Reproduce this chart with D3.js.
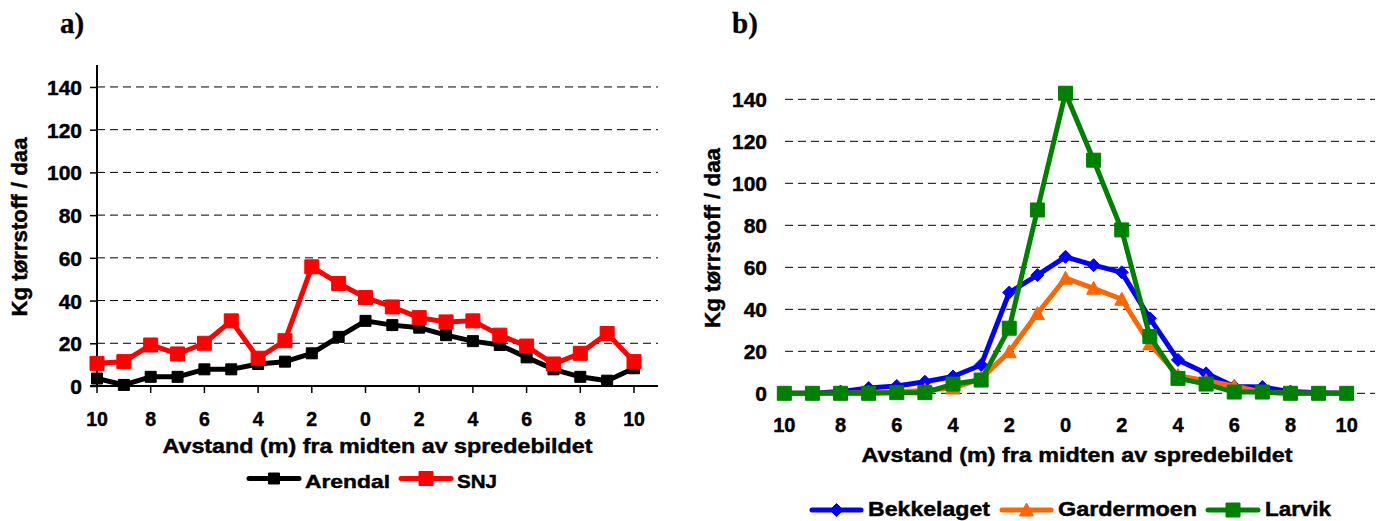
<!DOCTYPE html>
<html>
<head>
<meta charset="utf-8">
<script src="https://cdn.jsdelivr.net/npm/d3@7"></script>
<style>
  html, body { margin: 0; padding: 0; background: #fff; }
  svg { display: block; }
  text { font-family: "Liberation Sans", Arial, sans-serif; font-weight: bold; fill: #000; stroke: #000; stroke-width: 0.45px; }
</style>
</head>
<body>
<svg id="chart" width="1383" height="521"></svg>
<script>
// ---- data ----
const categories = [-10, -9, -8, -7, -6, -5, -4, -3, -2, -1, 0, 1, 2, 3, 4, 5, 6, 7, 8, 9, 10];
const tickCategories = [-10, -8, -6, -4, -2, 0, 2, 4, 6, 8, 10];
const tickLabels = ["10", "8", "6", "4", "2", "0", "2", "4", "6", "8", "10"];
const yTicks = [0, 20, 40, 60, 80, 100, 120, 140];

const arendal = [3.5, 0.5, 4.3, 4.3, 7.8, 7.8, 10.3, 11.4, 15.3, 23, 30.5, 28.5, 27.3, 23.8, 21, 19.2, 13.4, 7.8, 4.3, 2.5, 8.3];
const snj = [10.6, 11.4, 19.2, 15, 20, 30.5, 13, 21.2, 55.8, 48, 41.4, 37, 32, 30, 30.5, 23.8, 18.7, 10.3, 15.3, 24.6, 11.4];

const bekkelaget = [0, 0, 0.8, 2.5, 3.5, 5.5, 8, 13.5, 48, 56.3, 65, 61, 57.6, 35.7, 15.9, 9.5, 3.2, 3, 0.8, 0.3, 0];
const gardermoen = [0, 0, 0, 0.3, 0.5, 1.5, 2.5, 7, 19.8, 38, 54.8, 50, 44.8, 23.5, 8.4, 6, 3.5, 0.5, 0, 0, 0];
const larvik = [0, 0, 0, 0, 0.3, 0.3, 4.4, 6.3, 31, 87.3, 142.9, 111, 77.8, 27, 7.1, 4.4, 0.6, 0.6, 0, 0, 0];

const yTitle = "Kg tørrstoff / daa";
const xTitle = "Avstand (m) fra midten av spredebildet";

const svg = d3.select("#chart");

// marker shapes
function markerPath(type, s) {
  const h = s / 2;
  if (type === "square") return `M${-h},${-h}H${h}V${h}H${-h}Z`;
  if (type === "diamond") return `M0,${-h}L${h},0L0,${h}L${-h},0Z`;
  if (type === "triangle") return `M0,${-h}L${h},${h * 0.85}L${-h},${h * 0.85}Z`;
  return "";
}

function drawSeries(g, x, y, values, color, marker, msize, lw) {
  const line = d3.line().x((d, i) => x(categories[i])).y(d => y(d));
  g.append("path").datum(values)
    .attr("d", line).attr("fill", "none")
    .attr("stroke", color).attr("stroke-width", lw)
    .attr("stroke-linejoin", "round");
  g.selectAll(null).data(values).enter().append("path")
    .attr("d", markerPath(marker, msize))
    .attr("transform", (d, i) => `translate(${x(categories[i])},${y(d)})`)
    .attr("fill", color).attr("stroke", color).attr("stroke-width", 1);
}

function legendItem(g, x0, x1, yc, ty, color, marker, msize, label, tx, tlen, fs) {
  g.append("line").attr("x1", x0).attr("x2", x1).attr("y1", yc).attr("y2", yc)
    .attr("stroke", color).attr("stroke-width", 5).attr("stroke-linecap", "round");
  g.append("path").attr("d", markerPath(marker, msize))
    .attr("transform", `translate(${(x0 + x1) / 2},${yc})`)
    .attr("fill", color).attr("stroke", color);
  g.append("text").attr("x", tx).attr("y", ty)
    .attr("font-size", fs).attr("textLength", tlen).attr("lengthAdjust", "spacingAndGlyphs")
    .text(label);
}

// ================= Chart a) =================
{
  const g = svg.append("g");
  const x = d3.scaleLinear().domain([-10, 10]).range([97, 634]);
  const y = d3.scaleLinear().domain([0, 150]).range([386, 65.6]);
  const plotRight = 658;

  g.append("text").attr("x", 60).attr("y", 33)
    .style("font-family", "'Liberation Serif', 'Times New Roman', serif")
    .style("stroke-width", "0.3px")
    .attr("font-size", 29).text("a)");

  // gridlines
  g.selectAll(".grid").data(yTicks.filter(d => d > 0)).enter().append("line")
    .attr("x1", 97).attr("x2", plotRight)
    .attr("y1", d => y(d)).attr("y2", d => y(d))
    .attr("stroke", "#000").attr("stroke-width", 1).attr("stroke-dasharray", "8,5");

  // y axis
  const yAxis = d3.axisLeft(y).tickValues(yTicks).tickSize(7).tickPadding(8).tickFormat(d3.format("d"));
  const ya = g.append("g").attr("transform", "translate(97,0)").call(yAxis);
  ya.select(".domain").remove();
  ya.selectAll(".tick line").attr("stroke", "#000").attr("stroke-width", 1.5);
  ya.selectAll(".tick text").attr("font-size", 21).attr("dy", "0.36em")
    .style("font-family", "'Liberation Sans', Arial, sans-serif").style("font-weight", "bold");
  g.append("line").attr("x1", 97).attr("x2", 97).attr("y1", 65).attr("y2", 386)
    .attr("stroke", "#000").attr("stroke-width", 2);

  // x axis
  g.append("line").attr("x1", 90).attr("x2", plotRight).attr("y1", 386).attr("y2", 386)
    .attr("stroke", "#000").attr("stroke-width", 2);
  g.selectAll(".xt").data(tickCategories).enter().append("line")
    .attr("x1", d => x(d)).attr("x2", d => x(d)).attr("y1", 386).attr("y2", 393)
    .attr("stroke", "#000").attr("stroke-width", 1.5);
  g.selectAll(".xl").data(tickCategories).enter().append("text")
    .attr("x", d => x(d)).attr("y", 425.5).attr("text-anchor", "middle")
    .attr("font-size", 19.5).text((d, i) => tickLabels[i]);

  g.append("text").attr("x", 377.5).attr("y", 453).attr("text-anchor", "middle")
    .attr("font-size", 21).attr("textLength", 430).attr("lengthAdjust", "spacingAndGlyphs").text(xTitle);

  g.append("text").attr("transform", "translate(27,227) rotate(-90)").attr("text-anchor", "middle")
    .attr("font-size", 22).attr("textLength", 179).attr("lengthAdjust", "spacingAndGlyphs").text(yTitle);

  drawSeries(g, x, y, arendal, "#000000", "square", 11, 5);
  drawSeries(g, x, y, snj, "#FF0000", "square", 14, 5);

  legendItem(g, 249, 299, 478.5, 487.5, "#000000", "square", 11, "Arendal", 305, 85, 19);
  legendItem(g, 401, 451, 478.5, 487.5, "#FF0000", "square", 14, "SNJ", 457, 40, 19);
}

// ================= Chart b) =================
{
  const g = svg.append("g");
  const x = d3.scaleLinear().domain([-10, 10]).range([784.3, 1346.7]);
  const y = d3.scaleLinear().domain([0, 150]).range([393.3, 78.3]);
  const plotLeft = 785, plotRight = 1375;

  g.append("text").attr("x", 732).attr("y", 33)
    .style("font-family", "'Liberation Serif', 'Times New Roman', serif")
    .style("stroke-width", "0.3px")
    .attr("font-size", 29).text("b)");

  g.selectAll(".grid").data(yTicks).enter().append("line")
    .attr("x1", plotLeft).attr("x2", plotRight)
    .attr("y1", d => y(d)).attr("y2", d => y(d))
    .attr("stroke", "#000").attr("stroke-width", 1).attr("stroke-dasharray", "8,5");

  const yAxis = d3.axisLeft(y).tickValues(yTicks).tickSize(0).tickPadding(18).tickFormat(d3.format("d"));
  const ya = g.append("g").attr("transform", `translate(${plotLeft},0)`).call(yAxis);
  ya.select(".domain").remove();
  ya.selectAll(".tick line").remove();
  ya.selectAll(".tick text").attr("font-size", 21).attr("dy", "0.36em")
    .style("font-family", "'Liberation Sans', Arial, sans-serif").style("font-weight", "bold");

  g.selectAll(".xl").data(tickCategories).enter().append("text")
    .attr("x", d => x(d)).attr("y", 432).attr("text-anchor", "middle")
    .attr("font-size", 20).text((d, i) => tickLabels[i]);

  g.append("text").attr("x", 1077).attr("y", 462).attr("text-anchor", "middle")
    .attr("font-size", 21).attr("textLength", 431).attr("lengthAdjust", "spacingAndGlyphs").text(xTitle);

  g.append("text").attr("transform", "translate(720,238) rotate(-90)").attr("text-anchor", "middle")
    .attr("font-size", 22).attr("textLength", 180).attr("lengthAdjust", "spacingAndGlyphs").text(yTitle);

  drawSeries(g, x, y, bekkelaget, "#0000FF", "diamond", 13, 5);
  drawSeries(g, x, y, gardermoen, "#FF6600", "triangle", 14, 5);
  drawSeries(g, x, y, larvik, "#008000", "square", 14, 5);

  legendItem(g, 812, 861, 510, 516, "#0000FF", "diamond", 13, "Bekkelaget", 868, 122, 20);
  legendItem(g, 1002, 1051, 510, 516, "#FF6600", "triangle", 14, "Gardermoen", 1058, 139, 20);
  legendItem(g, 1208, 1258, 510, 516, "#008000", "square", 14, "Larvik", 1265, 66, 20);
}
</script>
</body>
</html>
